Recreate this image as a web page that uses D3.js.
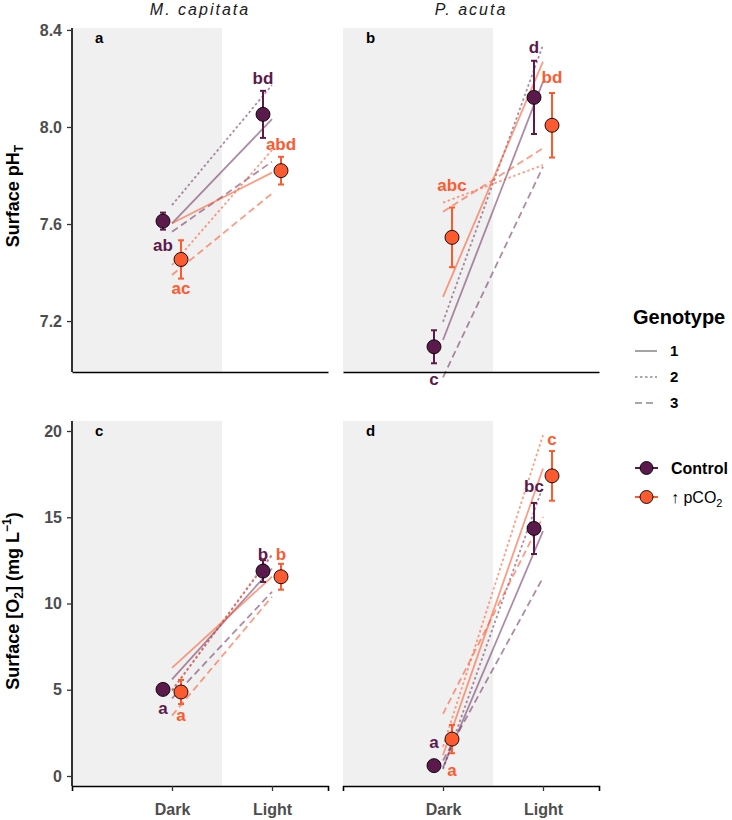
<!DOCTYPE html>
<html>
<head>
<meta charset="utf-8">
<script src="https://cdn.jsdelivr.net/npm/d3@7"></script>
<style>
  body { margin: 0; background: #fff; }
  svg { font-family: "Liberation Sans", Arial, sans-serif; }
</style>
</head>
<body>
<div id="chart"></div>
<script>
// categories
const species = ["M. capitata", "P. acuta"];
const lightLevels = ["Dark", "Light"];
const treatments = ["Control", "pCO2"];
const genotypes = ["1", "2", "3"];
const panelTags = ["a", "b", "c", "d"];

// means and standard errors, order: [panel][treatment][light]
const phMean = [
    [[7.612, 8.052], [7.454, 7.820]],
    [[7.094, 8.122], [7.545, 8.007]]
];
const phErr = [
    [[0.035, 0.097], [0.079, 0.057]],
    [[0.068, 0.151], [0.123, 0.133]]
];
const o2Mean = [
    [[5.02, 11.88], [4.87, 11.55]],
    [[0.60, 14.35], [2.14, 17.40]]
];
const o2Err = [
    [[0.15, 0.63], [0.70, 0.75]],
    [[0.12, 1.48], [0.82, 1.44]]
];

// genotype means, order: [panel][treatment][genotype] -> [dark, light]
const phGeno = [
    [[[7.603, 8.032], [7.678, 8.173], [7.568, 7.857]],
     [[7.603, 7.812], [7.431, 7.905], [7.390, 7.726]]],
    [[[7.122, 8.187], [7.197, 8.338], [6.968, 7.836]],
     [[7.300, 8.269], [7.688, 7.843], [7.651, 7.912]]]
];
const o2Geno = [
    [[[5.60, 12.03], [4.95, 12.80], [4.50, 10.68]],
     [[6.27, 11.55], [4.98, 12.86], [3.50, 10.39]]],
    [[[0.50, 14.20], [0.40, 16.80], [0.90, 11.50]],
     [[1.20, 17.83], [1.70, 19.76], [3.60, 15.02]]]
];

// compact letter display and the value it sits at
const phLetters = [
    [[["ab", 7.513], ["bd", 8.202]], [["ac", 7.336], ["abd", 7.930]]],
    [[["c", 6.963], ["d", 8.330]], [["abc", 7.761], ["bd", 8.207]]]
];
const o2Letters = [
    [[["a", 3.92], ["b", 12.9]], [["a", 3.57], ["b", 12.9]]],
    [[["a", 1.99], ["bc", 16.8]], [["a", 0.35], ["c", 19.57]]]
];

const phTicks = [7.2, 7.6, 8.0, 8.4];
const o2Ticks = [0, 5, 10, 15, 20];

const colors = {Control: "#5B1A4B", pCO2: "#FE5A30"};
const dashes = {"1": null, "2": "2.5,2.5", "3": "7,4"};

const svg = d3.select("#chart")
    .append("svg")
    .attr("width", 732)
    .attr("height", 820);

const panelW = 256;
const panelX = [72, 343];
const rows = [
    {top: 28, bottom: 372, domain: [6.990, 8.408], mean: phMean, err: phErr, geno: phGeno, letters: phLetters, ticks: phTicks, fmt: d3.format(".1f")},
    {top: 421, bottom: 786, domain: [-0.58, 20.58], mean: o2Mean, err: o2Err, geno: o2Geno, letters: o2Letters, ticks: o2Ticks, fmt: d3.format("d")}
];

// x position: Dark = 1, Light = 2, panel spans 0..2.56
const x = d3.scaleLinear().domain([0, 2.56]).range([0, panelW]);
const dodge = {Control: -0.09, pCO2: 0.09};

rows.forEach(function (row, r) {
    const y = d3.scaleLinear().domain(row.domain).range([row.bottom, row.top]);

    species.forEach(function (sp, s) {
        const g = svg.append("g")
            .attr("transform", `translate(${panelX[s]},0)`);

        // shaded dark period
        g.append("rect")
            .attr("x", x(0))
            .attr("y", row.top)
            .attr("width", x(1.5) - x(0))
            .attr("height", row.bottom - row.top)
            .attr("fill", "#f0f0f0");

        // genotype lines
        treatments.forEach(function (tr, t) {
            genotypes.forEach(function (gt, k) {
                const vals = row.geno[s][t][k];
                g.append("line")
                    .attr("x1", x(1))
                    .attr("x2", x(2))
                    .attr("y1", y(vals[0]))
                    .attr("y2", y(vals[1]))
                    .attr("stroke", colors[tr])
                    .attr("stroke-opacity", tr == "Control" ? 0.5 : 0.6)
                    .attr("stroke-width", 1.8)
                    .attr("stroke-dasharray", dashes[gt]);
            });
        });

        // error bars and points
        treatments.forEach(function (tr, t) {
            lightLevels.forEach(function (lv, l) {
                const m = row.mean[s][t][l], e = row.err[s][t][l];
                const cx = x(l + 1 + dodge[tr]);
                const eb = g.append("g").attr("stroke", colors[tr]).attr("stroke-width", 2);
                eb.append("line").attr("x1", cx).attr("x2", cx).attr("y1", y(m - e)).attr("y2", y(m + e));
                eb.append("line").attr("x1", cx - 3).attr("x2", cx + 3).attr("y1", y(m - e)).attr("y2", y(m - e));
                eb.append("line").attr("x1", cx - 3).attr("x2", cx + 3).attr("y1", y(m + e)).attr("y2", y(m + e));
                g.append("circle")
                    .attr("cx", cx)
                    .attr("cy", y(m))
                    .attr("r", 7)
                    .attr("fill", colors[tr])
                    .attr("stroke", "#000")
                    .attr("stroke-width", 0.9);

                const lab = row.letters[s][t][l];
                g.append("text")
                    .attr("x", cx)
                    .attr("y", y(lab[1]))
                    .attr("dy", "0.36em")
                    .attr("text-anchor", "middle")
                    .style("font-size", "17px")
                    .style("font-weight", "bold")
                    .style("fill", colors[tr])
                    .text(lab[0]);
            });
        });

        // axes
        const xAxis = g.append("g")
            .attr("transform", `translate(0,${row.bottom})`)
            .call(d3.axisBottom(x).tickValues(r == 1 ? [1, 2] : []).tickSize(r == 1 ? 5 : 0).tickPadding(13)
                .tickFormat(function (d) { return lightLevels[d - 1]; }));
        xAxis.select(".domain").attr("stroke", "#000").attr("stroke-width", 1.6);
        xAxis.selectAll(".tick line").attr("stroke", "#333").attr("stroke-width", 1.3);
        xAxis.selectAll(".tick text")
            .style("font-size", "16px")
            .style("font-weight", "bold")
            .style("font-family", "Liberation Sans, Arial, sans-serif")
            .style("fill", "#4d4d4d");

        if (s == 0) {
            const yAxis = g.append("g")
                .call(d3.axisLeft(y).tickValues(row.ticks).tickFormat(row.fmt).tickSize(5).tickPadding(5));
            yAxis.select(".domain").attr("stroke", "#000").attr("stroke-width", 1.6)
                .attr("d", `M0,${row.top}V${row.bottom}`);
            yAxis.selectAll(".tick line").attr("stroke", "#333").attr("stroke-width", 1.3);
            yAxis.selectAll(".tick text")
                .style("font-size", "16px")
                .style("font-weight", "bold")
                .style("font-family", "Liberation Sans, Arial, sans-serif")
                .style("fill", "#4d4d4d");
        }

        // panel tag
        g.append("text")
            .attr("x", x(0.23))
            .attr("y", row.top + 15)
            .style("font-size", "15px")
            .style("font-weight", "bold")
            .text(panelTags[r * 2 + s]);

        // facet title
        if (r == 0) {
            g.append("text")
                .attr("x", panelW / 2)
                .attr("y", 15)
                .attr("text-anchor", "middle")
                .style("font-size", "16px")
                .style("font-style", "italic")
                .style("letter-spacing", "2px")
                .style("fill", "#1a1a1a")
                .text(sp);
        }
    });
});

// y axis titles
const t1 = svg.append("text")
    .attr("transform", "translate(19,196) rotate(-90)")
    .attr("text-anchor", "middle")
    .style("font-size", "18px")
    .style("font-weight", "bold");
t1.append("tspan").text("Surface pH");
t1.append("tspan").attr("dy", 4).style("font-size", "12px").text("T");

const t2 = svg.append("text")
    .attr("transform", "translate(19,601) rotate(-90)")
    .attr("text-anchor", "middle")
    .style("font-size", "18px")
    .style("font-weight", "bold");
t2.append("tspan").text("Surface [O");
t2.append("tspan").attr("dy", 4).style("font-size", "12px").text("2");
t2.append("tspan").attr("dy", -4).text("] (mg L");
t2.append("tspan").attr("dy", -8).style("font-size", "12px").text("\u22121");
t2.append("tspan").attr("dy", 8).text(")");

// legends
const leg = svg.append("g").attr("transform", "translate(635,0)");
leg.append("text")
    .attr("x", -2)
    .attr("y", 324)
    .style("font-size", "20px")
    .style("font-weight", "bold")
    .text("Genotype");

genotypes.forEach(function (gt, i) {
    const cy = 351 + i * 26;
    leg.append("line")
        .attr("x1", 0).attr("x2", 22)
        .attr("y1", cy).attr("y2", cy)
        .attr("stroke", "#8c8c8c")
        .attr("stroke-width", 1.6)
        .attr("stroke-dasharray", dashes[gt]);
    leg.append("text")
        .attr("x", 35)
        .attr("y", cy)
        .attr("dy", "0.36em")
        .style("font-size", "15px")
        .style("font-weight", "bold")
        .text(gt);
});

treatments.forEach(function (tr, i) {
    const cy = 468 + i * 29;
    leg.append("line")
        .attr("x1", 0).attr("x2", 23)
        .attr("y1", cy).attr("y2", cy)
        .attr("stroke", colors[tr])
        .attr("stroke-width", 2);
    leg.append("circle")
        .attr("cx", 11.5)
        .attr("cy", cy)
        .attr("r", 6.5)
        .attr("fill", colors[tr])
        .attr("stroke", "#000")
        .attr("stroke-width", 0.9);
    const lt = leg.append("text")
        .attr("x", 36)
        .attr("y", cy)
        .attr("dy", "0.36em")
        .style("font-size", "16px");
    if (tr == "Control") {
        lt.style("font-weight", "bold").text("Control");
    } else {
        lt.append("tspan").text("\u2191 pCO");
        lt.append("tspan").attr("dy", 4).style("font-size", "11px").text("2");
    }
});
</script>
</body>
</html>
